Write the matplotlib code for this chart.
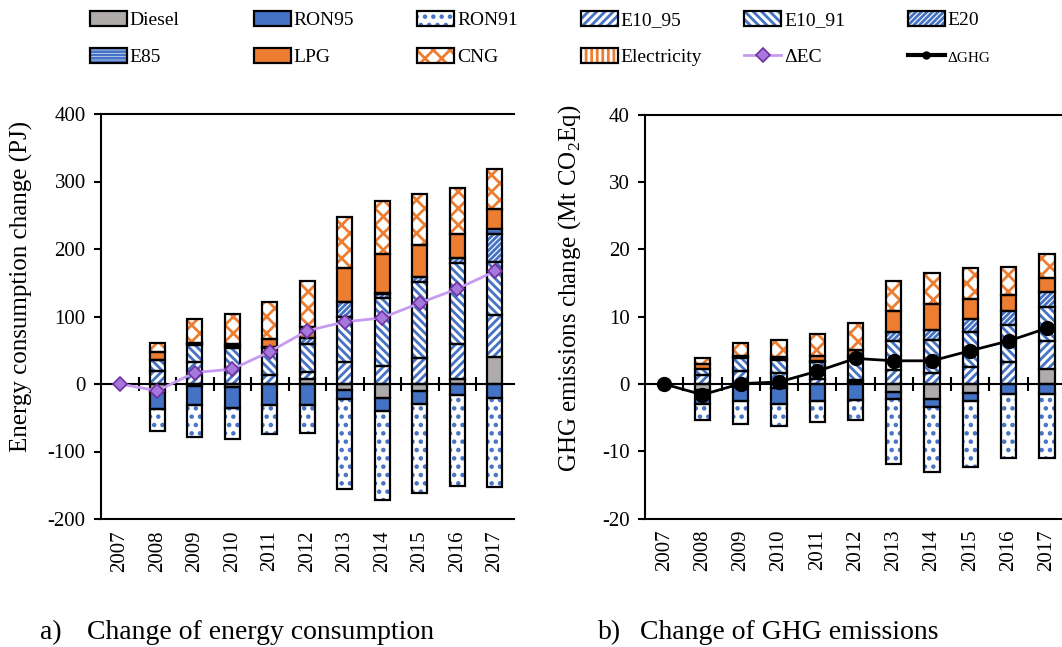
import matplotlib.pyplot as plt
import numpy as np
from matplotlib.patches import Patch
from matplotlib.lines import Line2D

plt.rcParams['font.family'] = ['Liberation Serif', 'DejaVu Serif']
plt.rcParams['axes.unicode_minus'] = False
plt.rcParams['mathtext.fontset'] = 'custom'
plt.rcParams['mathtext.rm'] = 'Liberation Serif'
plt.rcParams['hatch.linewidth'] = 2.0

years = ['2007', '2008', '2009', '2010', '2011', '2012',
         '2013', '2014', '2015', '2016', '2017']
fuels = ['Diesel', 'RON95', 'RON91', 'E10_95', 'E10_91', 'E20',
         'E85', 'LPG', 'CNG', 'Electricity']

# Energy consumption change vs 2007 (PJ)
ec_diesel = [0, -12, -3, -5, 0, 8, -9, -21, -11, 7, 40]
ec_ron95 = [0, -25, -28, -31, -31, -31, -13, -18.5, -18, -17, -20]
ec_ron91 = [0, -33, -48, -45, -43, -42, -134, -133, -133, -134, -132]
ec_e10_95 = [0, 20, 32, 24, 13, 10, 33, 27, 38, 52, 62]
ec_e10_91 = [0, 15, 26, 29, 41, 42, 67, 101, 113, 121, 79]
ec_e20 = [0, 1, 2, 3, 1, 7.5, 21, 5, 8, 7, 41]
ec_e85 = [0, 0, 0, 0, 0, 0, 1, 2, 0, 0, 7]
ec_lpg = [0, 11, 1, 4, 12, 17.5, 50, 57, 47, 35, 30]
ec_cng = [0, 14, 35, 44, 54, 68, 76, 79, 75, 69, 59]
ec_elec = [0, 0, 0, 0, 0, 0, 0, 0, 0, 0, 0]
ec_delta = [0, -10, 17, 22, 48, 79, 92, 98, 120, 141, 167]

# GHG emissions change vs 2007 (Mt CO2Eq)
ghg_diesel = [0, -0.9, -0.5, -0.6, 0, 0.3, -1.15, -2.2, -1.4, 0, 2.25]
ghg_ron95 = [0, -2.1, -2.1, -2.4, -2.6, -2.4, -1.1, -1.25, -1.2, -1.5, -1.5]
ghg_ron91 = [0, -2.35, -3.4, -3.25, -3.1, -2.95, -9.65, -9.65, -9.8, -9.55, -9.55]
ghg_e10_95 = [0, 1.3, 2.0, 1.7, 0.7, 0.3, 2.1, 1.7, 2.5, 3.3, 4.15]
ghg_e10_91 = [0, 0.9, 1.8, 1.9, 2.6, 3.2, 4.35, 4.85, 5.3, 5.45, 5.0]
ghg_e20 = [0, 0, 0.2, 0.1, 0.15, 0.3, 1.25, 1.55, 1.85, 2.15, 2.3]
ghg_e85 = [0, 0, 0, 0, 0, 0, 0, 0, 0, 0, 0]
ghg_lpg = [0, 0.8, 0.1, 0.3, 0.75, 1.0, 3.15, 3.8, 3.0, 2.3, 2.0]
ghg_cng = [0, 0.8, 2.0, 2.5, 3.3, 4.0, 4.45, 4.65, 4.55, 4.25, 3.6]
ghg_elec = [0, 0, 0, 0, 0, 0, 0, 0, 0, 0, 0]
ghg_delta = [0, -1.6, 0.05, 0.3, 1.9, 3.8, 3.45, 3.45, 4.95, 6.4, 8.3]

BLUE = '#4472C4'
ORANGE = '#ED7D31'
GRAY = '#AFABAB'
# (face colour, hatch colour, hatch)
styles = {
    'Diesel': (GRAY, GRAY, None),
    'RON95': (BLUE, BLUE, None),
    'RON91': ('white', BLUE, '..'),
    'E10_95': ('white', BLUE, '////'),
    'E10_91': ('white', BLUE, '\\\\\\\\'),
    'E20': ('white', BLUE, '//////'),
    'E85': ('white', BLUE, '-----'),
    'LPG': (ORANGE, ORANGE, None),
    'CNG': ('white', ORANGE, 'xx'),
    'Electricity': ('white', ORANGE, '|||'),
}


def draw_panel(ax, series, delta, line_kw):
    x = np.arange(len(years))
    pos = np.zeros(len(years))
    neg = np.zeros(len(years))
    for name, vals in zip(fuels, series):
        v = np.array(vals, dtype=float)
        base = np.where(v >= 0, pos, neg)
        m = v != 0
        face, hc, hatch = styles[name]
        ax.bar(x[m], v[m], bottom=base[m], width=0.4, color=face,
               edgecolor=hc, hatch=hatch, linewidth=0, zorder=2)
        ax.bar(x[m], v[m], bottom=base[m], width=0.4, fill=False,
               edgecolor='black', linewidth=1.6, zorder=3)
        pos += np.where(v > 0, v, 0)
        neg += np.where(v < 0, v, 0)
    ax.plot(x, delta, zorder=5, **line_kw)

    ax.set_xlim(-0.5, len(years) - 0.5)
    for s in ax.spines.values():
        s.set_linewidth(1.5)
    ax.spines['right'].set_visible(False)
    ax.spines['bottom'].set_position(('data', 0))
    ax.set_xticks(np.arange(len(years) - 1) + 0.5)
    ax.tick_params(axis='x', direction='inout', length=10, width=1.5,
                   labelbottom=False)
    ax.tick_params(axis='y', direction='out', length=5, width=1.5,
                   labelsize=15, pad=6)
    sec = ax.secondary_xaxis(0.0)
    sec.set_xticks(np.arange(len(years)), labels=years, rotation=90)
    sec.tick_params(length=0, labelsize=15, pad=8)
    sec.spines['bottom'].set_linewidth(1.5)


fig = plt.figure(figsize=(10.62, 6.47), dpi=100)
ax1 = fig.add_axes([101 / 1062, (647 - 519) / 647, 412.5 / 1062, 405 / 647])
ax2 = fig.add_axes([645 / 1062, (647 - 518.5) / 647, 421 / 1062, 403.5 / 647])

ec_line = dict(color='#C79BF2', lw=2, marker='D', ms=7,
               mfc='#A678DD', mec='#7030A0', mew=1.2)
ghg_line = dict(color='black', lw=2, marker='o', ms=10)

draw_panel(ax1, [ec_diesel, ec_ron95, ec_ron91, ec_e10_95, ec_e10_91, ec_e20,
                 ec_e85, ec_lpg, ec_cng, ec_elec], ec_delta, ec_line)
ax1.set_ylim(-200, 400)
ax1.set_yticks(range(-200, 401, 100))
ax1.set_ylabel('Energy consumption change (PJ)', fontsize=18)
ax1.yaxis.set_label_coords(-0.165, 0.575)

draw_panel(ax2, [ghg_diesel, ghg_ron95, ghg_ron91, ghg_e10_95, ghg_e10_91,
                 ghg_e20, ghg_e85, ghg_lpg, ghg_cng, ghg_elec], ghg_delta,
           ghg_line)
ax2.set_ylim(-20, 40)
ax2.set_yticks(range(-20, 41, 10))
ax2.set_ylabel(r'GHG emissions change (Mt CO$_\mathregular{2}$Eq)', fontsize=18)
ax2.yaxis.set_label_coords(-0.147, 0.571)

# legend: one small legend per column, two rows each
def fuel_handle(name):
    face, hc, hatch = styles[name]
    return (Patch(facecolor=face, edgecolor=hc, hatch=hatch, linewidth=0),
            Patch(fill=False, edgecolor='black', linewidth=1.6))


row1 = ['Diesel', 'RON95', 'RON91', 'E10_95', 'E10_91', 'E20']
row2 = ['E85', 'LPG', 'CNG', 'Electricity', '\u0394EC', '\u0394GHG']
extra = {'\u0394EC': Line2D([], [], **ec_line),
         '\u0394GHG': Line2D([], [], color='black', lw=3, marker='o', ms=5)}

for j in range(6):
    hs = []
    for name in (row1[j], row2[j]):
        hs.append(extra[name] if name in extra else fuel_handle(name))
    leg = fig.legend(hs, [row1[j], row2[j]], loc='upper left',
                     bbox_to_anchor=((90 + 163.6 * j) / 1062, 1 - 11 / 647),
                     frameon=False, fontsize=14, handlelength=1.9,
                     handleheight=0.8, handletextpad=0.15, borderpad=0,
                     borderaxespad=0, labelspacing=0.95)
    if row2[j] == '\u0394GHG':
        leg.get_texts()[1].set_fontsize(11)

fig.text(40 / 1062, 0.022, 'a)', fontsize=20, va='center')
fig.text(87 / 1062, 0.022, 'Change of energy consumption', fontsize=20, va='center')
fig.text(598 / 1062, 0.022, 'b)', fontsize=20, va='center')
fig.text(640 / 1062, 0.022, 'Change of GHG emissions', fontsize=20, va='center')

fig.savefig('out.png', dpi=100)
